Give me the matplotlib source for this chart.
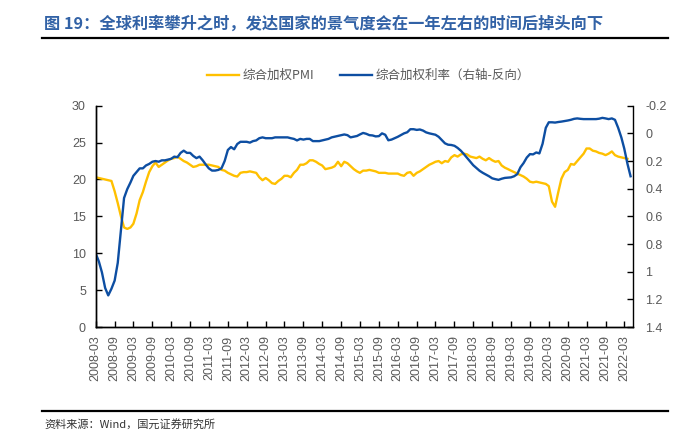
import numpy as np
import pandas as pd
import matplotlib
matplotlib.use('Agg')
import matplotlib.pyplot as plt
import matplotlib.dates as mdates
import matplotlib.transforms as mtrans

plt.rcParams['font.family'] = ['Liberation Sans', 'Noto Sans CJK SC', 'DejaVu Sans']

# 综合加权PMI，2008-03 起的月度数据
pmi = [20.3, 20.2, 20.1, 20.0, 19.9, 19.8, 18.4, 16.8, 15.0, 13.5,
       13.3, 13.5, 14.0, 15.4, 17.2, 18.3, 19.7, 21.0, 21.8, 22.3,
       21.7, 22.0, 22.3, 22.6, 22.8, 22.9, 23.1, 22.8, 22.5, 22.3,
       22.0, 21.7, 21.8, 22.0, 22.0, 22.0, 22.0, 21.9, 21.8, 21.7,
       21.3, 21.2, 20.9, 20.7, 20.5, 20.4, 20.9, 21.0, 21.0, 21.1,
       21.0, 20.9, 20.3, 19.9, 20.2, 19.9, 19.5, 19.4, 19.8, 20.1,
       20.5, 20.5, 20.3, 20.9, 21.3, 22.0, 22.0, 22.2, 22.6, 22.6,
       22.4, 22.1, 21.9, 21.4, 21.5, 21.6, 21.8, 22.4, 21.8, 22.4,
       22.2, 21.8, 21.4, 21.1, 20.9, 21.2, 21.2, 21.3, 21.2, 21.1,
       20.9, 20.9, 20.9, 20.8, 20.8, 20.8, 20.8, 20.6, 20.5, 20.9,
       21.0, 20.5, 20.9, 21.1, 21.4, 21.7, 22.0, 22.2, 22.4, 22.5,
       22.2, 22.5, 22.4, 23.0, 23.3, 23.1, 23.4, 23.5, 23.4, 23.1,
       23.0, 22.9, 23.1, 22.8, 22.6, 22.9, 22.6, 22.4, 22.5, 21.9,
       21.6, 21.4, 21.2, 21.0, 20.8, 20.6, 20.4, 20.1, 19.7, 19.6,
       19.7, 19.6, 19.5, 19.4, 19.1, 17.0, 16.3, 18.3, 20.1, 21.0,
       21.3, 22.1, 22.0, 22.5, 23.0, 23.5, 24.2, 24.2, 23.9, 23.8,
       23.6, 23.5, 23.3, 23.5, 23.8, 23.3, 23.1, 23.0, 22.9, 22.8]

# 综合加权利率（右轴，反向）
rate = [0.867, 0.925, 1.005, 1.117, 1.171, 1.123, 1.064, 0.936, 0.696, 0.467,
        0.403, 0.355, 0.307, 0.280, 0.253, 0.253, 0.232, 0.221, 0.205, 0.200,
        0.205, 0.195, 0.195, 0.189, 0.184, 0.168, 0.173, 0.141, 0.125, 0.141,
        0.141, 0.163, 0.179, 0.168, 0.195, 0.227, 0.253, 0.269, 0.269, 0.264,
        0.253, 0.200, 0.120, 0.099, 0.115, 0.077, 0.061, 0.061, 0.061, 0.067,
        0.056, 0.051, 0.035, 0.029, 0.035, 0.035, 0.035, 0.029, 0.029, 0.029,
        0.029, 0.029, 0.035, 0.040, 0.051, 0.040, 0.045, 0.040, 0.040, 0.056,
        0.056, 0.056, 0.051, 0.045, 0.040, 0.029, 0.024, 0.019, 0.013, 0.008,
        0.013, 0.029, 0.024, 0.019, 0.008, -0.003, 0.003, 0.013, 0.015, 0.022,
        0.020, 0.000, 0.010, 0.050, 0.045, 0.035, 0.025, 0.012, 0.000, -0.008,
        -0.030, -0.030, -0.025, -0.028, -0.020, -0.007, 0.000, 0.005, 0.010, 0.025,
        0.048, 0.072, 0.082, 0.084, 0.090, 0.105, 0.125, 0.150, 0.178, 0.205,
        0.230, 0.250, 0.270, 0.285, 0.297, 0.310, 0.325, 0.331, 0.336, 0.328,
        0.322, 0.320, 0.318, 0.310, 0.295, 0.245, 0.215, 0.175, 0.150, 0.152,
        0.138, 0.145, 0.075, -0.040, -0.080, -0.080, -0.078, -0.082, -0.085, -0.089,
        -0.093, -0.098, -0.105, -0.108, -0.105, -0.103, -0.103, -0.103, -0.103, -0.103,
        -0.106, -0.112, -0.108, -0.103, -0.108, -0.098, -0.040, 0.030, 0.110, 0.220,
        0.310]

months = pd.date_range('2008-03-01', periods=len(rate), freq='MS')
tick_dates = pd.date_range('2008-03-01', '2022-03-01', freq='6MS')

title = '图 19：全球利率攀升之时，发达国家的景气度会在一年左右的时间后掉头向下'
source = '资料来源：Wind，国元证券研究所'

c_pmi = '#FFC000'
c_rate = '#0D4EA2'
c_text = '#595959'

fig = plt.figure(figsize=(6.98, 4.45), dpi=100)
ax = fig.add_axes([0.137, 0.265, 0.7695, 0.4975])
ax2 = ax.twinx()

l1, = ax.plot(months[:len(pmi)], pmi, color=c_pmi, lw=1.7, label='综合加权PMI')
l2, = ax2.plot(months, rate, color=c_rate, lw=1.7, label='综合加权利率（右轴-反向）')

ax.set_ylim(0, 30)
ax.set_yticks(np.arange(0, 31, 5))
ax2.set_ylim(1.4, -0.2)
ax2.set_yticks(np.arange(-0.2, 1.41, 0.2))
ax2.yaxis.set_major_formatter(plt.FuncFormatter(lambda v, p: f'{round(v, 1):g}'))

ax.set_xlim(pd.Timestamp('2008-03-01'), pd.Timestamp('2022-05-22'))
ax.set_xticks(tick_dates)
ax.xaxis.set_major_formatter(mdates.DateFormatter('%Y-%m'))
for lab in ax.get_xticklabels():
    lab.set_rotation(90)
    lab.set_transform(lab.get_transform() + mtrans.ScaledTranslation(0.04, 0, fig.dpi_scale_trans))

for a in (ax, ax2):
    a.spines['top'].set_visible(False)
    for s in a.spines.values():
        s.set_color('black')
        s.set_linewidth(1)
ax.spines['right'].set_visible(False)

ax.tick_params(axis='y', direction='in', length=4, width=1, pad=7, labelsize=9, labelcolor=c_text)
ax.tick_params(axis='x', direction='in', length=4, width=1, pad=6, labelsize=9, labelcolor=c_text)
ax2.tick_params(axis='y', direction='in', length=4, width=1, pad=9, labelsize=9, labelcolor=c_text)

fig.legend(handles=[l1, l2], loc='center', bbox_to_anchor=(0.528, 1 - 75.7 / 445), ncol=2,
           frameon=False, fontsize=9, handlelength=2.6, handletextpad=0.3, columnspacing=2.0,
           labelcolor=c_text, prop={'family': ['Noto Sans CJK SC', 'DejaVu Sans'], 'size': 9})

fig.text(44 / 698, 1 - 24 / 445, title, fontsize=11.7, fontweight='bold', color='#3262A6',
         ha='left', va='center', family=['Noto Sans CJK SC', 'DejaVu Sans'])
fig.add_artist(plt.Line2D([42 / 698, 668 / 698], [1 - 37.5 / 445] * 2, color='black', lw=1.6))
fig.add_artist(plt.Line2D([42 / 698, 668 / 698], [1 - 410.5 / 445] * 2, color='black', lw=1.6))
fig.text(44 / 698, 1 - 424 / 445, source, fontsize=8, color='#333333', ha='left', va='center',
         family=['Noto Sans CJK SC', 'DejaVu Sans'])

fig.savefig('out.png', dpi=100)
